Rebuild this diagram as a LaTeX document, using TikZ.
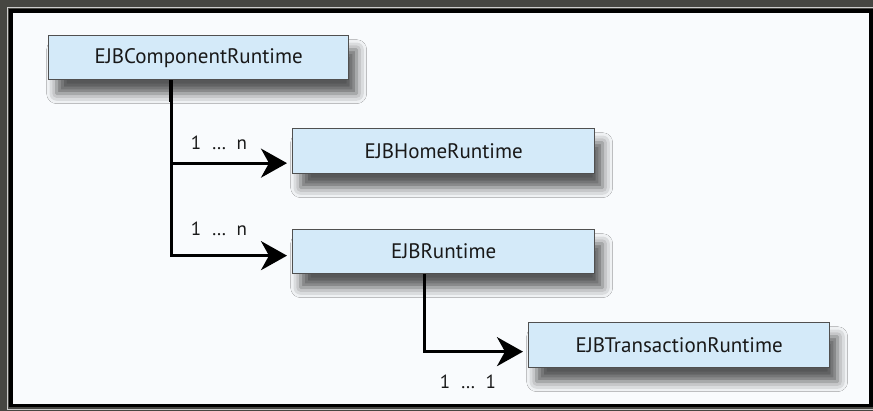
\documentclass[tikz,border=0pt]{standalone}
\usepackage{fontspec}
\setmainfont{PT Sans}
\usepackage{tikz}
\usetikzlibrary{arrows.meta,shadows.blur}

\definecolor{backdrop}{RGB}{70,70,66}
\definecolor{panelwhite}{RGB}{249,251,253}
\definecolor{boxblue}{RGB}{212,234,249}
\definecolor{boxedge}{RGB}{80,80,80}

\begin{document}
\begin{tikzpicture}[x=1pt,y=-1pt,
  runtime/.style={draw=boxedge,fill=boxblue,line width=1.3pt,inner sep=0pt,
    anchor=north west,text=black!90,font=\fontsize{21}{25}\selectfont,
    blur shadow={shadow xshift=8pt,shadow yshift=-14pt,shadow blur radius=10pt,shadow opacity=65}},
  link/.style={line width=3pt,shorten >=5pt,-{Stealth[length=26pt,width=29pt,inset=8pt]}},
  mult/.style={text=black!90,font=\fontsize{19}{23}\selectfont,inner sep=0pt}]
\useasboundingbox (0,0) rectangle (873,411);

% frame
\fill[backdrop] (0,0) rectangle (873,411);
\draw[gray!40,line width=1pt] (7.5,7.5) rectangle (880,409.5);
\draw[black,line width=3.5pt,fill=panelwhite] (11,11) rectangle (871.2,405.5);

% classes
\node[runtime,minimum width=300pt,minimum height=44pt] (comp) at (48,35) {EJBComponentRuntime};
\node[runtime,minimum width=302pt,minimum height=45pt] (home) at (292,128) {EJBHomeRuntime};
\node[runtime,minimum width=302pt,minimum height=44pt] (ejb) at (292,229) {EJBRuntime};
\node[runtime,minimum width=301pt,minimum height=45pt] (trans) at (528,322) {EJBTransactionRuntime};

% associations
\draw[line width=4.5pt] ([xshift=123pt]comp.south west) -- ++(0,22);
\draw[link] ([xshift=123pt]comp.south west) |- ([yshift=-12pt]home.west);
\draw[link] ([xshift=123pt]comp.south west) |- ([yshift=-4pt]ejb.west);
\draw[link] ([xshift=132pt]ejb.south west) |- ([yshift=-6.5pt]trans.west);

\node[mult] (m1) at (219,143) {1\hspace{0.55em}\ldots\hspace{0.55em}n};
\node[mult] (m2) at (219,229) {1\hspace{0.55em}\ldots\hspace{0.55em}n};
\node[mult] (m3) at (468,382) {1\hspace{0.55em}\ldots\hspace{0.55em}1};
\end{tikzpicture}
\end{document}
